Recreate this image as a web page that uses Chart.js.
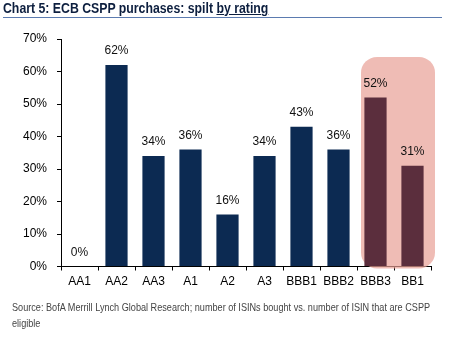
<!DOCTYPE html>
<html>
<head>
<meta charset="utf-8">
<script src="https://cdn.jsdelivr.net/npm/chart.js@4"></script>
<style>
  body { margin: 0; background: #fff; }
  #wrap { position: relative; width: 458px; height: 341px; overflow: hidden; }
  #title { position: absolute; left: 3px; top: 0px; font: bold 14px "Liberation Sans", Arial, sans-serif; color: #0d1f3f; white-space: nowrap; transform-origin: 0 0; }
  #title u { text-decoration-thickness: 1px; }
  #rule { position: absolute; left: 3px; top: 17px; width: 439px; height: 1px; background: #5b7bb0; }
  #source { position: absolute; left: 12px; top: 299px; font: 10.5px "Liberation Sans", Arial, sans-serif; color: #444; line-height: 16px; white-space: nowrap; transform-origin: 0 0; }
  canvas { position: absolute; left: 0; top: 0; }
</style>
</head>
<body>
<div id="wrap">
  <canvas id="chart" width="458" height="341"></canvas>
  <div id="title">Chart 5: ECB CSPP purchases: spilt <u>by rating</u></div>
  <div id="rule"></div>
  <div id="source">Source: BofA Merrill Lynch Global Research; number of ISINs bought vs. number of ISIN that are CSPP<br>eligible</div>
</div>
<script>
const ratings = ["AA1", "AA2", "AA3", "A1", "A2", "A3", "BBB1", "BBB2", "BBB3", "BB1"];
const purchasedShare = [0, 62, 34, 36, 16, 34, 43, 36, 52, 31];
const highlighted = ["BBB3", "BB1"];
const yTicks = [0, 10, 20, 30, 40, 50, 60, 70];

const navy = "#0c2a52";
const plum = "#5b2e3d";

// squeeze the text blocks to the condensed width of the original
function fitWidth(id, target) {
  const el = document.getElementById(id);
  el.style.transform = "scaleX(" + (target / el.scrollWidth) + ")";
}
fitWidth("title", 265);
fitWidth("source", 418);

// pink rounded box behind the highlighted ratings
const highlightBox = {
  id: "highlightBox",
  beforeDatasetsDraw(chart) {
    const { ctx, scales: { x, y } } = chart;
    const idx = highlighted.map(r => ratings.indexOf(r));
    const half = (x.getPixelForValue(1) - x.getPixelForValue(0)) / 2;
    const left = x.getPixelForValue(Math.min(...idx)) - half + 4;
    const right = x.getPixelForValue(Math.max(...idx)) + half + 4;
    const top = y.getPixelForValue(64.5);
    const bottom = y.getPixelForValue(0) + 2;
    ctx.save();
    ctx.fillStyle = "rgba(232, 160, 150, 0.7)";
    ctx.beginPath();
    ctx.roundRect(left, top, right - left, bottom - top, 16);
    ctx.fill();
    ctx.restore();
  }
};

const valueLabels = {
  id: "valueLabels",
  afterDatasetsDraw(chart) {
    const { ctx } = chart;
    const meta = chart.getDatasetMeta(0);
    ctx.save();
    ctx.font = "12px 'Liberation Sans', Arial, sans-serif";
    ctx.fillStyle = "#111";
    ctx.textAlign = "center";
    ctx.textBaseline = "middle";
    meta.data.forEach((bar, i) => {
      ctx.fillText(purchasedShare[i] + "%", bar.x, bar.y - 14);
    });
    ctx.restore();
  }
};

new Chart(document.getElementById("chart"), {
  type: "bar",
  data: {
    labels: ratings,
    datasets: [{
      data: purchasedShare,
      backgroundColor: ratings.map(r => highlighted.includes(r) ? plum : navy),
      borderWidth: 0,
      categoryPercentage: 0.6,
      barPercentage: 1
    }]
  },
  options: {
    responsive: false,
    animation: false,
    layout: { padding: { left: 0, right: 27, top: 39, bottom: 0 } },
    plugins: { legend: { display: false }, tooltip: { enabled: false } },
    scales: {
      x: {
        grid: { drawOnChartArea: false, drawTicks: true, tickLength: 4, color: "#000", offset: true },
        border: { color: "#000", width: 1 },
        ticks: { color: "#000", font: { family: "'Liberation Sans', Arial", size: 12 }, padding: 4, maxRotation: 0, autoSkip: false },
        afterFit(s) { s.height = 74.5; }
      },
      y: {
        min: 0,
        max: 70,
        afterBuildTicks(s) { s.ticks = yTicks.map(v => ({ value: v })); },
        grid: { drawOnChartArea: false, drawTicks: true, tickLength: 4, color: "#000" },
        border: { color: "#000", width: 1 },
        ticks: { color: "#000", font: { family: "'Liberation Sans', Arial", size: 12 }, padding: 10, callback: v => v + "%" },
        afterFit(s) { s.width = 61; }
      }
    }
  },
  plugins: [highlightBox, valueLabels]
});
</script>
</body>
</html>
